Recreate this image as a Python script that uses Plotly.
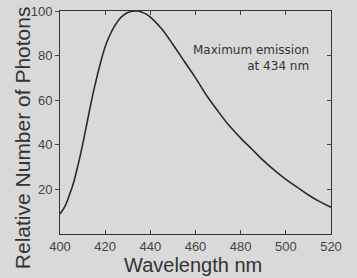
import plotly.graph_objects as go

wavelength = [400, 402, 404, 406, 408, 410, 412, 414, 416, 418, 420, 422, 424, 426, 428,
              430, 432, 434, 436, 438, 440, 445, 450, 455, 460, 465, 470, 475, 480,
              485, 490, 495, 500, 505, 510, 515, 520]
photons = [9, 12, 17, 23, 31, 40, 50, 60, 69, 77, 84, 89, 93, 96, 98,
           99.3, 99.9, 100, 99.6, 98.7, 97.3, 92, 85, 77.5, 70, 62, 55, 48.5, 43,
           38, 33, 28.5, 24.5, 21, 17.5, 14.5, 12]
x_ticks = [400, 420, 440, 460, 480, 500, 520]
y_ticks = [20, 40, 60, 80, 100]
note_lines = ["Maximum emission", "at 434 nm"]

bg = "#d9d9d9"
ink = "#2a2a2a"
font = "Liberation Sans"

fig = go.Figure()
fig.add_trace(go.Scatter(x=wavelength, y=photons, mode="lines",
                         line=dict(color=ink, width=1.6, shape="spline"),
                         showlegend=False, hoverinfo="skip"))
# invisible trace for mirrored axes
fig.add_trace(go.Scatter(x=[400], y=[0], xaxis="x2", yaxis="y2", mode="markers",
                         marker=dict(opacity=0), showlegend=False, hoverinfo="skip"))

fig.add_annotation(x=0.922, y=0.787, xref="paper", yref="paper", xanchor="right", yanchor="middle",
                   text="<br>".join(note_lines), showarrow=False, align="right", borderpad=0,
                   font=dict(family="DejaVu Sans", size=12, color="#333"))
fig.add_annotation(x=0.489, y=-0.137, xref="paper", yref="paper", xanchor="center", yanchor="middle",
                   text="Wavelength nm", showarrow=False,
                   font=dict(family=font, size=20, color="#333"))
fig.add_annotation(x=-0.14, y=0.43, xref="paper", yref="paper", xanchor="center", yanchor="middle",
                   text="Relative Number of Photons", showarrow=False, textangle=-90,
                   font=dict(family=font, size=21, color="#333"))

fig.update_layout(
    width=357, height=278,
    margin=dict(l=60, r=26, t=11, b=44),
    paper_bgcolor=bg, plot_bgcolor=bg,
    xaxis=dict(range=[400, 520], tickvals=x_ticks, ticks="inside", ticklen=4, tickcolor="#444",
               showline=True, linecolor="#333", linewidth=1, showgrid=False, zeroline=False,
               automargin=False,
               tickfont=dict(family=font, size=13, color="#444")),
    yaxis=dict(range=[0, 100], tickvals=y_ticks, ticks="outside", ticklen=4, tickcolor="#444",
               showline=True, linecolor="#333", linewidth=1, showgrid=False, zeroline=False,
               automargin=False,
               tickfont=dict(family=font, size=13, color="#444")),
    xaxis2=dict(range=[400, 520], tickvals=x_ticks, ticks="inside", ticklen=4, tickcolor="#444",
                overlaying="x", side="top", showticklabels=False, showline=True, linecolor="#333",
                showgrid=False, zeroline=False, automargin=False),
    yaxis2=dict(range=[0, 100], tickvals=y_ticks, ticks="inside", ticklen=4, tickcolor="#444",
                overlaying="y", side="right", showticklabels=False, showline=True, linecolor="#333",
                showgrid=False, zeroline=False, automargin=False),
)

fig.write_html("out.html", config={"displayModeBar": False},
               post_script="document.body.style.margin='0';document.body.style.overflow='hidden';")
